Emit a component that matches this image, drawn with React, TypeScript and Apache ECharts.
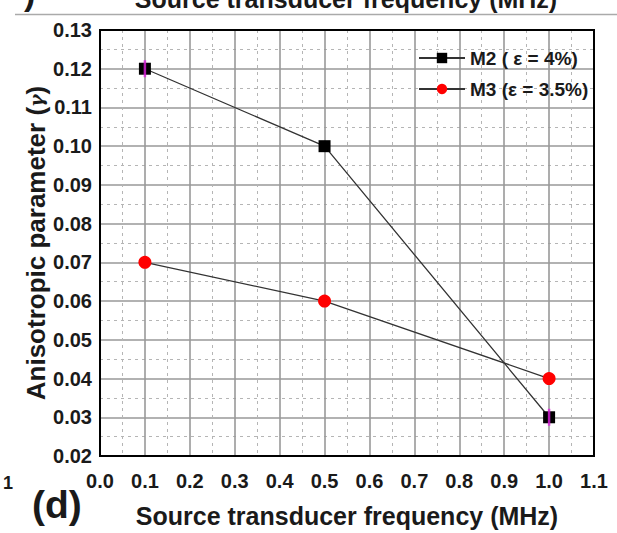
import React, { useEffect, useRef } from "react";
import * as echarts from "echarts";

const frequencies = [0.1, 0.5, 1.0];
const m2Values = [0.12, 0.1, 0.03];
const m3Values = [0.07, 0.06, 0.04];
const m2Name = "M2 ( ε = 4%)";
const m3Name = "M3 (ε = 3.5%)";
const markFreqs = [0.1, 1.0];
const markValues = [0.12, 0.03];
const xAxisTitle = "Source transducer frequency (MHz)";
const yAxisTitle = "Anisotropic parameter";
const panelLabel = "(d)";
const strayLabel = "1";

const FONT = "'Liberation Sans', Arial, sans-serif";
const TXT = "#1a1a1a";

export default function App() {
  const ref = useRef<HTMLDivElement>(null);
  useEffect(() => {
    if (!ref.current) return;
    const chart = echarts.init(ref.current, undefined, { renderer: "svg" });
    const m2Data = frequencies.map((f, i) => [f, m2Values[i]]);
    const m3Data = frequencies.map((f, i) => [f, m3Values[i]]);
    const markData = markFreqs.map((f, i) => [f, markValues[i]]);
    chart.setOption({
      animation: false,
      backgroundColor: "#fff",
      textStyle: { fontFamily: FONT },
      grid: {
        left: 100,
        right: 23,
        top: 30,
        bottom: 74,
        show: true,
        borderColor: "#000",
        borderWidth: 2,
        z: 3,
      },
      legend: {
        data: [m2Name, m3Name],
        orient: "vertical",
        left: 413,
        top: 43,
        itemWidth: 46,
        itemHeight: 13,
        itemGap: 11,
        textStyle: {
          fontFamily: FONT,
          fontWeight: "bold",
          fontSize: 19,
          color: TXT,
          lineHeight: 20,
        },
      },
      xAxis: {
        type: "value",
        min: 0,
        max: 1.1,
        interval: 0.1,
        axisLine: { show: false },
        axisTick: { show: false },
        axisLabel: {
          margin: 15,
          fontFamily: FONT,
          fontWeight: "bold",
          fontSize: 20,
          color: TXT,
          formatter: (v: number) => v.toFixed(1),
        },
        splitLine: { show: true, lineStyle: { color: "#999", width: 1.6 } },
        minorTick: { show: false, splitNumber: 2 },
        minorSplitLine: {
          show: true,
          lineStyle: { color: "#b5b5b5", width: 1, type: [3, 4] },
        },
        name: xAxisTitle,
        nameLocation: "middle",
        nameGap: 47,
        nameTextStyle: {
          fontFamily: FONT,
          fontWeight: "bold",
          fontSize: 25,
          color: TXT,
        },
      },
      yAxis: {
        type: "value",
        min: 0.02,
        max: 0.13,
        interval: 0.01,
        axisLine: { show: false },
        axisTick: { show: false },
        axisLabel: {
          margin: 8,
          fontFamily: FONT,
          fontWeight: "bold",
          fontSize: 20,
          color: TXT,
          formatter: (v: number) => v.toFixed(2),
        },
        splitLine: { show: true, lineStyle: { color: "#999", width: 1.6 } },
        minorTick: { show: false, splitNumber: 2 },
        minorSplitLine: {
          show: true,
          lineStyle: { color: "#b5b5b5", width: 1, type: [3, 4] },
        },
        name: yAxisTitle + " ({g|γ})",
        nameLocation: "middle",
        nameRotate: 90,
        nameGap: 51,
        nameMoveOverlap: false,
        nameTextStyle: {
          fontFamily: FONT,
          fontWeight: "bold",
          fontSize: 26,
          color: TXT,
          rich: {
            g: {
              fontFamily: "'DejaVu Serif', serif",
              fontSize: 19,
              fontStyle: "italic",
              color: TXT,
            },
          },
        },
      },
      series: [
        {
          name: m2Name,
          type: "line",
          data: m2Data,
          symbol: "rect",
          symbolSize: 12,
          itemStyle: { color: "#000" },
          lineStyle: { color: "#333", width: 1.3 },
          z: 5,
        },
        {
          name: m3Name,
          type: "line",
          data: m3Data,
          symbol: "circle",
          symbolSize: 13,
          itemStyle: { color: "#ff0000" },
          lineStyle: { color: "#333", width: 1.3 },
          z: 5,
        },
        {
          name: "marks",
          type: "scatter",
          data: markData,
          symbol: "rect",
          symbolSize: [2.5, 17],
          itemStyle: { color: "#e020e0" },
          z: 6,
          silent: true,
        },
      ],
      graphic: [
        {
          type: "text",
          x: 346,
          y: 11,
          style: {
            text: xAxisTitle,
            align: "center",
            verticalAlign: "bottom",
            font: `bold 25px ${FONT}`,
            fill: TXT,
          },
        },
        {
          type: "line",
          shape: { x1: 15, y1: 14.5, x2: 617, y2: 14.5 },
          style: { stroke: "#aaa", lineWidth: 1.5 },
        },
        {
          type: "text",
          x: 24,
          y: -24,
          style: {
            text: ")",
            font: `bold 34px ${FONT}`,
            fill: TXT,
          },
        },
        {
          type: "text",
          x: 3,
          y: 474,
          style: {
            text: strayLabel,
            font: `bold 18px ${FONT}`,
            fill: TXT,
          },
        },
        {
          type: "text",
          x: 32,
          y: 485,
          style: {
            text: panelLabel,
            font: `bold 39px ${FONT}`,
            fill: TXT,
          },
        },
      ],
    });
    return () => chart.dispose();
  }, []);
  return (
    <div
      ref={ref}
      style={{ position: "fixed", left: 0, top: 0, width: 617, height: 533 }}
    />
  );
}
